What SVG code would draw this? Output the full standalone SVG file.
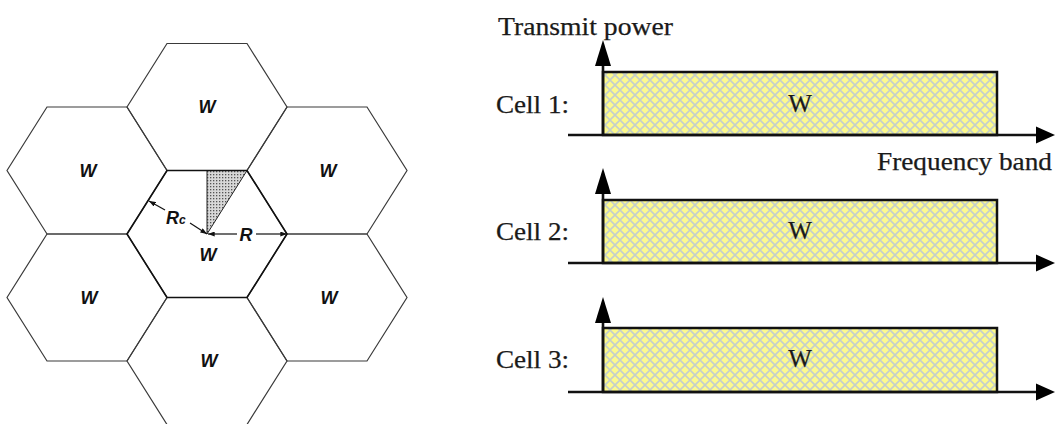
<svg xmlns="http://www.w3.org/2000/svg" width="1056" height="424" viewBox="0 0 1056 424">
<style>
.hex{fill:none;stroke:#3a3a3a;stroke-width:1.2}
.hexc{fill:none;stroke:#111;stroke-width:1.6}
.lw{font-family:"Liberation Sans",Arial,sans-serif;font-size:18px;font-weight:bold;font-style:italic;fill:#111;text-anchor:middle}
.rl{font-family:"Liberation Sans",Arial,sans-serif;font-style:italic;font-weight:bold;fill:#111}
.dim{stroke:#111;stroke-width:1.2;fill:none}
.ser{font-family:"Liberation Serif","Times New Roman",serif;font-size:25px;fill:#1a1a1a;stroke:#1a1a1a;stroke-width:0.25}
.band{fill:url(#hatch);stroke:#111;stroke-width:2.5}
.ax{stroke:#111;stroke-width:2.6;fill:none}
.head{fill:#000}
</style>
<defs>
<pattern id="dots" width="3" height="3" patternUnits="userSpaceOnUse">
<rect width="3" height="3" fill="#d8d8d8"/>
<rect width="1.3" height="1.3" fill="#555"/>
</pattern>
<pattern id="hatch" width="10" height="10" patternUnits="userSpaceOnUse">
<rect width="10" height="10" fill="#fdfa8c"/>
<path d="M0,0 L10,10 M10,0 L0,10" stroke="#c4cfcb" stroke-width="1.6"/>
</pattern>
<marker id="sa" viewBox="0 0 8 6" refX="8" refY="3" markerWidth="7" markerHeight="5" markerUnits="userSpaceOnUse" orient="auto">
<path d="M0,0 L8,3 L0,6 z" fill="#111"/>
</marker>
</defs>

<g id="cells">
<g id="hex-top"><polygon class="hex" points="127,107 167,43.5 247,43.5 287,107 247,170.5 167,170.5"/><text class="lw" x="207" y="113">W</text></g>
<g id="hex-upper-left"><polygon class="hex" points="7,170.5 47,107 127,107 167,170.5 127,234 47,234"/><text class="lw" x="88" y="177">W</text></g>
<g id="hex-upper-right"><polygon class="hex" points="247,170.5 287,107 367,107 407,170.5 367,234 287,234"/><text class="lw" x="328" y="177">W</text></g>
<g id="hex-lower-left"><polygon class="hex" points="7,297.5 47,234 127,234 167,297.5 127,361 47,361"/><text class="lw" x="89" y="304">W</text></g>
<g id="hex-lower-right"><polygon class="hex" points="247,297.5 287,234 367,234 407,297.5 367,361 287,361"/><text class="lw" x="329" y="304">W</text></g>
<g id="hex-bottom"><polygon class="hex" points="127,361 167,297.5 247,297.5 287,361 247,424.5 167,424.5"/><text class="lw" x="209" y="367">W</text></g>
<g id="hex-center">
<polygon points="207,170.5 247,170.5 207,234" fill="url(#dots)" stroke="#222" stroke-width="1"/>
<polygon class="hexc" points="127,234 167,170.5 247,170.5 287,234 247,297.5 167,297.5"/>
<text class="lw" x="208" y="261">W</text>
</g>
</g>

<g id="dimensions">
<line class="dim" x1="165" y1="210" x2="149" y2="201" marker-end="url(#sa)"/>
<line class="dim" x1="190" y1="223" x2="207" y2="234" marker-end="url(#sa)"/>
<text class="rl" x="166" y="224" font-size="18">R<tspan font-size="12">c</tspan></text>
<line class="dim" x1="237" y1="234" x2="208" y2="234" marker-end="url(#sa)"/>
<line class="dim" x1="256" y1="234" x2="287" y2="234" marker-end="url(#sa)"/>
<text class="rl" x="246" y="241" font-size="18" text-anchor="middle">R</text>
</g>

<text class="ser" x="498" y="35" textLength="175" lengthAdjust="spacingAndGlyphs">Transmit power</text>
<text class="ser" x="877" y="170" textLength="175" lengthAdjust="spacingAndGlyphs">Frequency band</text>

<g id="cell1">
<text class="ser" x="496" y="113" textLength="73" lengthAdjust="spacingAndGlyphs">Cell 1:</text>
<rect class="band" x="603" y="72" width="394" height="63"/>
<text class="ser" x="800" y="112" text-anchor="middle">W</text>
<line class="ax" x1="603" y1="135" x2="603" y2="62"/>
<polygon class="head" points="603,40 595,66 611,66"/>
<line class="ax" x1="568" y1="135" x2="1040" y2="135"/>
<polygon class="head" points="1055,135 1036,126.5 1036,143.5"/>
</g>

<g id="cell2">
<text class="ser" x="496" y="240" textLength="73" lengthAdjust="spacingAndGlyphs">Cell 2:</text>
<rect class="band" x="603" y="200" width="394" height="63"/>
<text class="ser" x="800" y="239" text-anchor="middle">W</text>
<line class="ax" x1="603" y1="263" x2="603" y2="190"/>
<polygon class="head" points="603,168 595,194 611,194"/>
<line class="ax" x1="568" y1="263" x2="1040" y2="263"/>
<polygon class="head" points="1055,263 1036,254.5 1036,271.5"/>
</g>

<g id="cell3">
<text class="ser" x="496" y="368" textLength="73" lengthAdjust="spacingAndGlyphs">Cell 3:</text>
<rect class="band" x="603" y="328" width="394" height="64"/>
<text class="ser" x="800" y="367" text-anchor="middle">W</text>
<line class="ax" x1="603" y1="392" x2="603" y2="319"/>
<polygon class="head" points="603,297 595,323 611,323"/>
<line class="ax" x1="568" y1="392" x2="1040" y2="392"/>
<polygon class="head" points="1055,392 1036,383.5 1036,400.5"/>
</g>
</svg>
